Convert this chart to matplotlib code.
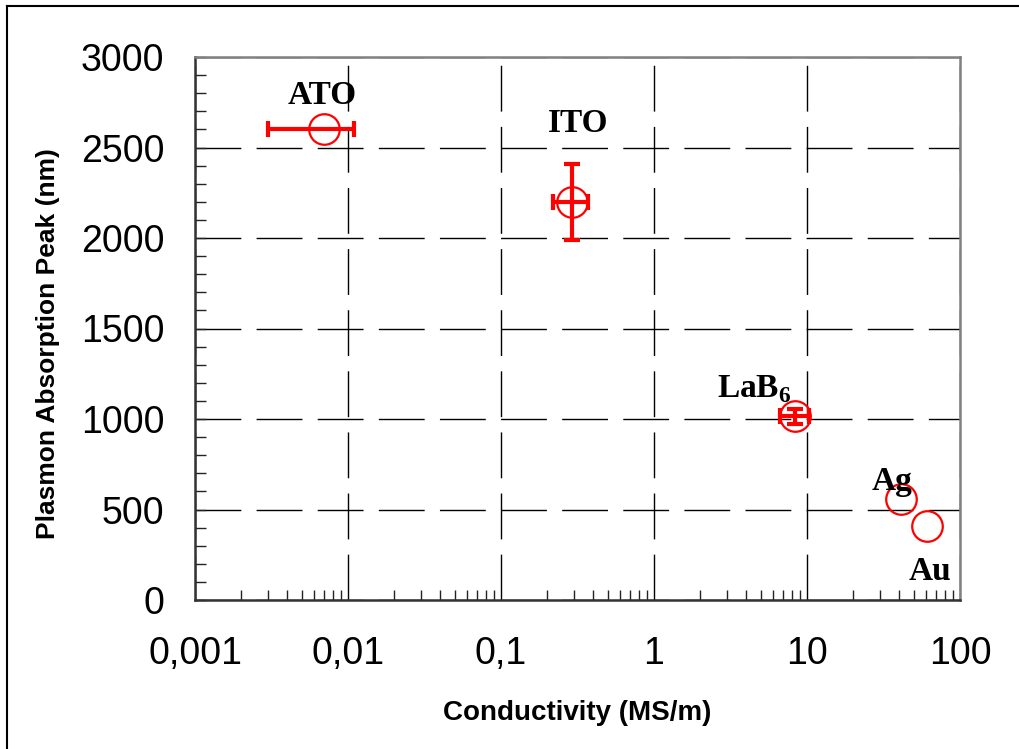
import numpy as np
import matplotlib
matplotlib.use("Agg")
import matplotlib.pyplot as plt
from matplotlib.lines import Line2D
from matplotlib.ticker import FixedLocator, FixedFormatter, LogLocator, MultipleLocator

plt.rcParams["lines.scale_dashes"] = False
plt.rcParams["mathtext.fontset"] = "custom"
plt.rcParams["mathtext.rm"] = "Liberation Serif:bold"
plt.rcParams["mathtext.bf"] = "Liberation Serif:bold"

# Data
materials = ["ATO", "ITO", "LaB$_6$", "Ag", "Au"]
conductivity = [0.007, 0.29, 8.3, 41, 61]          # MS/m
peak = [2600, 2200, 1015, 560, 410]                # nm
x_err_low = [0.004, 0.07, 1.6, 0, 0]
x_err_high = [0.004, 0.08, 2.0, 0, 0]
y_err = [0, 210, 40, 0, 0]

# label positions (data coords)
label_x = [0.0068, 0.32, 4.5, 36, 64]
label_y = [2785, 2630, 1165, 655, 160]

x_ticks = [0.001, 0.01, 0.1, 1, 10, 100]
x_tick_labels = ["0,001", "0,01", "0,1", "1", "10", "100"]
y_ticks = [0, 500, 1000, 1500, 2000, 2500, 3000]

fig = plt.figure(figsize=(10.19, 7.49), dpi=100)
ax = fig.add_axes([195 / 1019, 149 / 749, 765 / 1019, 543 / 749])

# error bars
for i in range(len(materials)):
    xe = [[x_err_low[i]], [x_err_high[i]]] if x_err_high[i] else None
    ye = y_err[i] if y_err[i] else None
    if xe is None and ye is None:
        continue
    ax.errorbar(conductivity[i], peak[i], xerr=xe, yerr=ye, fmt="none",
                ecolor="red", elinewidth=3, capsize=6, capthick=3, zorder=3)

ax.plot(conductivity, peak, linestyle="none", marker="o", markersize=22,
        markerfacecolor="none", markeredgecolor="red", markeredgewidth=1.6, zorder=4)

for name, lx, ly in zip(materials, label_x, label_y):
    ax.text(lx, ly, name, ha="center", va="center", fontsize=24,
            fontfamily="Liberation Serif", fontweight="bold", zorder=5)

ax.set_xscale("log")
ax.set_xlim(0.001, 100)
ax.set_ylim(0, 3000)

ax.xaxis.set_major_locator(FixedLocator(x_ticks))
ax.xaxis.set_major_formatter(FixedFormatter(x_tick_labels))
ax.xaxis.set_minor_locator(LogLocator(base=10, subs=np.arange(2, 10)))
ax.xaxis.set_minor_formatter(FixedFormatter([]))
ax.yaxis.set_major_locator(FixedLocator(y_ticks))
ax.yaxis.set_minor_locator(MultipleLocator(100))

ax.tick_params(axis="both", which="both", direction="in", colors="#222222",
               labelcolor="black", labelsize=27, labelfontfamily="Liberation Sans")
ax.tick_params(axis="x", which="major", length=0, pad=26)
ax.tick_params(axis="x", which="minor", length=7, width=1)
ax.tick_params(axis="y", which="major", length=8, width=1, pad=22)
ax.tick_params(axis="y", which="minor", length=8, width=1)

ax.grid(True, which="major", color="black", linewidth=1, linestyle=(0, (33, 11)))

for side in ["left", "bottom"]:
    ax.spines[side].set_color("#333333")
    ax.spines[side].set_linewidth(1.8)
for side in ["top", "right"]:
    ax.spines[side].set_color("#808080")
    ax.spines[side].set_linewidth(1.8)

ax.set_xlabel("Conductivity (MS/m)", fontsize=20, fontweight="bold",
              fontfamily="Liberation Sans", va="center")
ax.set_ylabel("Plasmon Absorption Peak (nm)", fontsize=19, fontweight="bold",
              fontfamily="Liberation Sans", va="center")
ax.xaxis.set_label_coords(0.5, -0.208)
ax.yaxis.set_label_coords(-0.192, 0.473)

# outer frame (left and top edges visible)
fig.add_artist(Line2D([7 / 1019, 7 / 1019], [0, 1 - 6 / 749], color="black", linewidth=1.5))
fig.add_artist(Line2D([7 / 1019, 1], [1 - 6 / 749, 1 - 6 / 749], color="black", linewidth=1.5))

fig.savefig("out.png", dpi=100)
